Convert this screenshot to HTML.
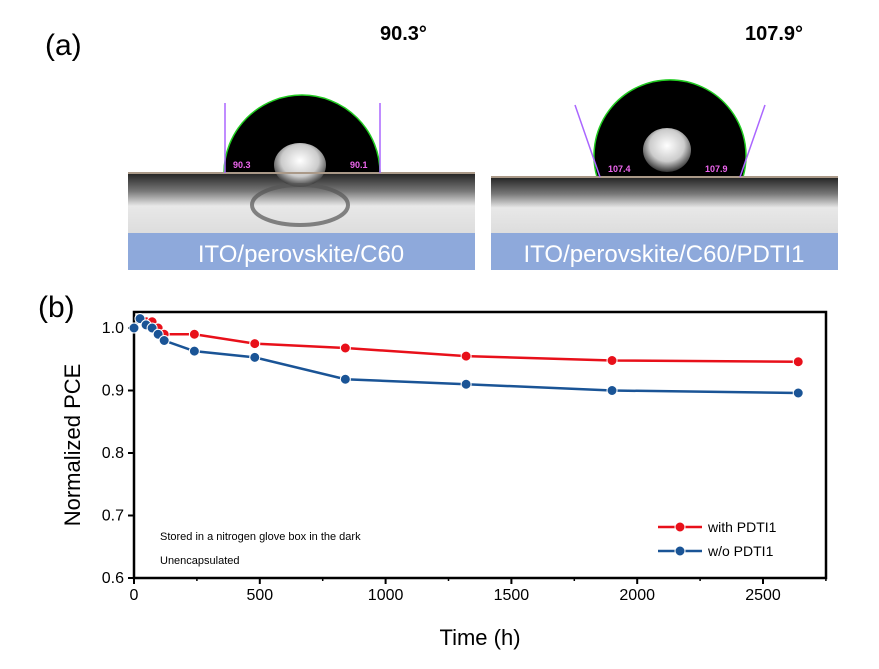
<!DOCTYPE html>
<html><head><meta charset="utf-8"><style>
body{margin:0;background:#fff;}
svg text{font-family:"Liberation Sans",sans-serif;}
</style></head><body>
<svg width="879" height="664" viewBox="0 0 879 664">
<defs>
<radialGradient id="hl" cx="0.5" cy="0.4" r="0.6"><stop offset="0" stop-color="#fff"/><stop offset="0.6" stop-color="#ccc"/><stop offset="1" stop-color="#333"/></radialGradient>
<linearGradient id="sub" x1="0" y1="0" x2="0" y2="1"><stop offset="0" stop-color="#222"/><stop offset="0.3" stop-color="#777"/><stop offset="0.55" stop-color="#e8e8e8"/><stop offset="1" stop-color="#ddd"/></linearGradient>
</defs>
<text x="45" y="55" font-size="30">(a)</text>
<text x="380" y="40" font-size="20" font-weight="bold">90.3°</text>
<text x="745" y="40" font-size="20" font-weight="bold">107.9°</text>
<g>
<rect x="128" y="173" width="347" height="60" fill="url(#sub)"/>
<path d="M224 173 A78 78 0 0 1 380 173 Z" fill="#000"/>
<path d="M224 173 A78 78 0 0 1 380 173" fill="none" stroke="#2c2" stroke-width="1.5"/>
<ellipse cx="300" cy="165" rx="26" ry="22" fill="url(#hl)"/>
<ellipse cx="300" cy="205" rx="48" ry="20" fill="none" stroke="#555" stroke-width="4" opacity="0.7"/>
<line x1="128" y1="173" x2="475" y2="173" stroke="#a98" stroke-width="2"/>
<line x1="225" y1="103" x2="225" y2="173" stroke="#a6f" stroke-width="1.5"/>
<line x1="380" y1="103" x2="380" y2="173" stroke="#a6f" stroke-width="1.5"/>
<text x="233" y="168" font-size="9" fill="#e6e" font-weight="bold">90.3</text>
<text x="350" y="168" font-size="9" fill="#e6e" font-weight="bold">90.1</text>
<rect x="128" y="233" width="347" height="37" fill="#8ea9db"/>
<text x="301" y="262" font-size="24" fill="#fff" text-anchor="middle">ITO/perovskite/C60</text>
</g>
<g>
<rect x="491" y="177" width="347" height="56" fill="url(#sub)"/>
<path d="M597 177 A76 76 0 1 1 743 177 Z" fill="#000"/>
<path d="M597 177 A76 76 0 1 1 743 177" fill="none" stroke="#2c2" stroke-width="1.5"/>
<ellipse cx="667" cy="150" rx="24" ry="22" fill="url(#hl)"/>
<line x1="491" y1="177" x2="838" y2="177" stroke="#a98" stroke-width="2"/>
<line x1="575" y1="105" x2="600" y2="177" stroke="#a6f" stroke-width="1.5"/>
<line x1="765" y1="105" x2="740" y2="177" stroke="#a6f" stroke-width="1.5"/>
<text x="608" y="172" font-size="9" fill="#e6e" font-weight="bold">107.4</text>
<text x="705" y="172" font-size="9" fill="#e6e" font-weight="bold">107.9</text>
<rect x="491" y="233" width="347" height="37" fill="#8ea9db"/>
<text x="664" y="262" font-size="24" fill="#fff" text-anchor="middle">ITO/perovskite/C60/PDTI1</text>
</g>
<text x="38" y="317" font-size="30">(b)</text>
<g id="chart"></g>
</svg>
<script>
const timesRed=[0,24,48,72,96,120,240,480,840,1320,1900,2640];
const pceRed=[1.0,1.015,1.01,1.01,1.0,0.99,0.99,0.975,0.968,0.955,0.948,0.946];
const timesBlue=[0,24,48,72,96,120,240,480,840,1320,1900,2640];
const pceBlue=[1.0,1.015,1.005,1.0,0.99,0.98,0.963,0.953,0.918,0.91,0.9,0.896];
const xTicks=[0,500,1000,1500,2000,2500];
const yTicks=[0.6,0.7,0.8,0.9,1.0];
const NS="http://www.w3.org/2000/svg";
const g=document.getElementById('chart');
const X0=134,X1=826,Y0=578,Y1=312;
const xs=t=>X0+t*(763-134)/2500;
const ys=v=>578-(v-0.6)*(578-328)/0.4;
function mk(tag,a,p){const e=document.createElementNS(NS,tag);for(const k in a)e.setAttribute(k,a[k]);(p||g).appendChild(e);return e;}
const frame=mk('rect',{x:X0,y:Y1,width:X1-X0,height:Y0-Y1,fill:'none',stroke:'#000','stroke-width':2.5});


xTicks.forEach(t=>{const l=mk('line',{x1:xs(t),x2:xs(t),y1:Y0,y2:Y0+6,stroke:'#000','stroke-width':2});


const m=mk('line',{x1:xs(t+250),x2:xs(t+250),y1:Y0,y2:Y0+3,stroke:'#000','stroke-width':1.5});


const tx=mk('text',{x:xs(t),y:Y0+22,'font-size':16,'text-anchor':'middle'});tx.textContent=t;

});
yTicks.forEach(v=>{const l=mk('line',{x1:X0-6,x2:X0,y1:ys(v),y2:ys(v),stroke:'#000','stroke-width':2});


const tx=mk('text',{x:X0-10,y:ys(v)+5,'font-size':16,'text-anchor':'end'});tx.textContent=v.toFixed(1);

});
function series(ts,vs,c,name){const p=mk('polyline',{points:ts.map((t,i)=>xs(t)+','+ys(vs[i])).join(' '),fill:'none',stroke:c,'stroke-width':2.5});


ts.forEach((t,i)=>{const c1=mk('circle',{cx:xs(t),cy:ys(vs[i]),r:5,fill:c,stroke:'#fff','stroke-width':1});

});}
series(timesRed,pceRed,'#e8101a','with-pdti1');
series(timesBlue,pceBlue,'#1a5496','without-pdti1');
const xt=mk('text',{x:480,y:645,'font-size':22,'text-anchor':'middle'});xt.textContent='Time (h)';


const yt=mk('text',{x:0,y:0,'font-size':22,'text-anchor':'middle',transform:'translate(80,445) rotate(-90)'});yt.textContent='Normalized PCE';


const n1=mk('text',{x:160,y:540,'font-size':11});n1.textContent='Stored in a nitrogen glove box in the dark';


const n2=mk('text',{x:160,y:564,'font-size':11});n2.textContent='Unencapsulated';


[['with PDTI1','#e8101a',527],['w/o  PDTI1','#1a5496',551]].forEach(([lab,c,y])=>{
const l=mk('line',{x1:658,x2:702,y1:y,y2:y,stroke:c,'stroke-width':2.5});


const ci=mk('circle',{cx:680,cy:y,r:5,fill:c,stroke:'#fff','stroke-width':1});


const t=mk('text',{x:708,y:y+5,'font-size':14});t.textContent=lab;

});
</script>
</body></html>
